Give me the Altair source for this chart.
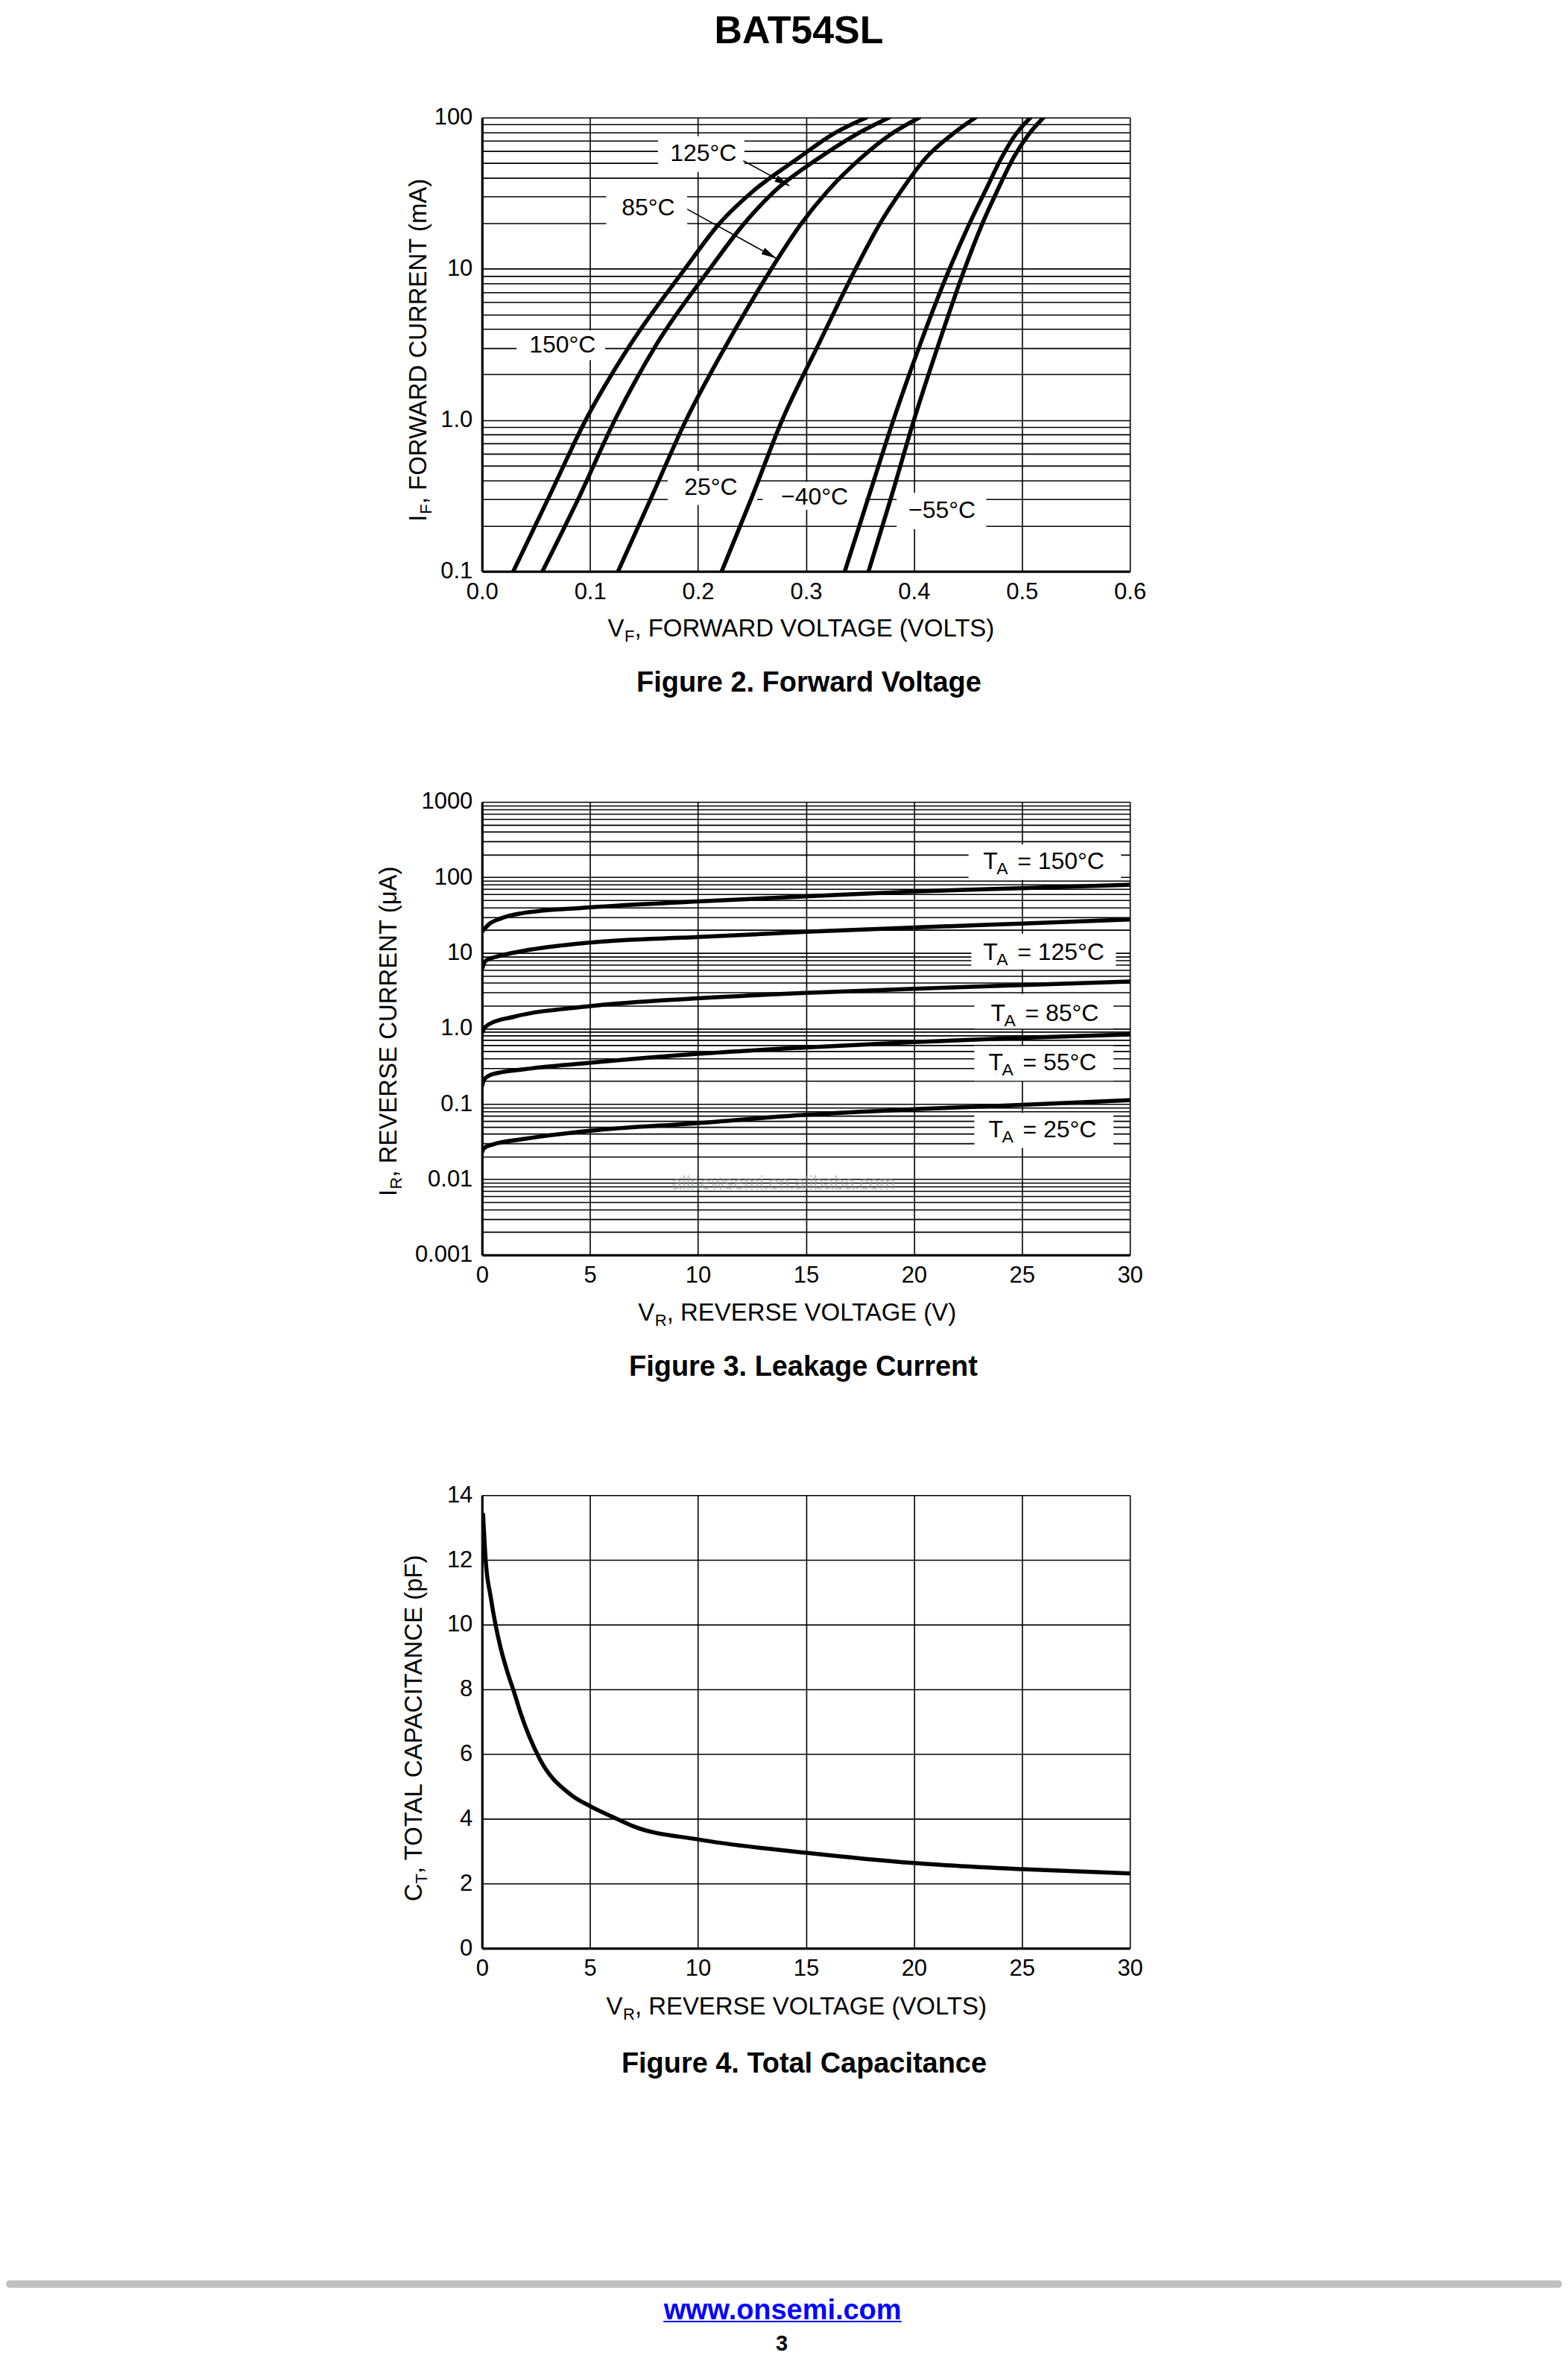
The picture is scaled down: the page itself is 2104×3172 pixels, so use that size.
import altair as alt
import pandas as pd

FONT = "Liberation Sans"
W = 871

# ---------------- Figure 2: forward voltage (V) vs forward current (mA) ----------------
fv_current_mA = [0.1, 0.31, 1.0, 3.2, 10, 19.6, 32.6, 54, 77, 100]
fv_150 = [0.029, 0.062, 0.096, 0.138, 0.188, 0.219, 0.251, 0.293, 0.324, 0.356]
fv_125 = [0.056, 0.090, 0.123, 0.162, 0.211, 0.242, 0.271, 0.312, 0.346, 0.377]
fv_85 = [0.126, 0.157, 0.189, 0.227, 0.268, 0.295, 0.320, 0.351, 0.378, 0.405]
fv_25 = [0.222, 0.250, 0.278, 0.312, 0.346, 0.368, 0.388, 0.411, 0.435, 0.457]
fv_m40 = [0.336, 0.358, 0.381, 0.406, 0.433, 0.451, 0.466, 0.481, 0.494, 0.508]
fv_m55 = [0.358, 0.379, 0.400, 0.423, 0.447, 0.463, 0.477, 0.492, 0.506, 0.520]
fv_names = ["150", "125", "85", "25", "-40", "-55"]

fv_xticks = [0.0, 0.1, 0.2, 0.3, 0.4, 0.5, 0.6]
fv_ylabels = {0.1: "0.1", 1: "1.0", 10: "10", 100: "100"}

fv_lbl_text = ["150°C", "125°C", "85°C", "25°C", "−40°C", "−55°C"]
fv_lbl_v = [0.0745, 0.205, 0.154, 0.212, 0.308, 0.426]
fv_lbl_i = [3.13, 58, 25.4, 0.36, 0.31, 0.253]
fv_box_v1 = [0.032, 0.163, 0.115, 0.172, 0.260, 0.384]
fv_box_v2 = [0.114, 0.243, 0.190, 0.255, 0.355, 0.467]
fv_box_i1 = [2.49, 43.7, 18.5, 0.275, 0.255, 0.19]
fv_box_i2 = [3.92, 75.3, 34.0, 0.46, 0.39, 0.33]

fv_arrow_v1 = [0.242, 0.190]
fv_arrow_i1 = [51.8, 24.8]
fv_arrow_v2 = [0.2846, 0.2724]
fv_arrow_i2 = [35.4, 11.75]

# ---------------- Figure 3: leakage current (uA) vs reverse voltage ----------------
lk_v_150 = [0, 0.3, 0.87, 1.8, 5, 10, 15, 20, 25, 30]
lk_i_150 = [19, 23.7, 28.6, 33.3, 40, 48, 56, 65, 72, 80]
lk_v_125 = [0, 0.18, 0.87, 1.8, 5, 10, 15, 20, 25, 30]
lk_i_125 = [6.1, 7.9, 9.2, 10.5, 13.7, 16.2, 19, 21.7, 24.5, 27.7]
lk_v_85 = [0, 0.1, 0.36, 1.45, 5, 10, 15, 20, 25, 30]
lk_i_85 = [0.87, 1.0, 1.15, 1.42, 1.97, 2.5, 2.95, 3.35, 3.75, 4.18]
lk_v_55 = [0, 0.1, 0.48, 1.94, 5, 10, 15, 20, 25, 30]
lk_i_55 = [0.173, 0.21, 0.247, 0.287, 0.35, 0.46, 0.56, 0.66, 0.75, 0.83]
lk_v_25 = [0, 0.1, 0.48, 1.94, 5, 10, 15, 20, 25, 30]
lk_i_25 = [0.023, 0.026, 0.0289, 0.0343, 0.044, 0.0557, 0.0718, 0.085, 0.097, 0.112]

lk_xticks = [0, 5, 10, 15, 20, 25, 30]
lk_ylabels = {0.001: "0.001", 0.01: "0.01", 0.1: "0.1", 1: "1.0", 10: "10", 100: "100", 1000: "1000"}

lk_lbl_temp = ["= 150°C", "= 125°C", "= 85°C", "= 55°C", "= 25°C"]
lk_lbl_v = [23.21, 23.21, 23.56, 23.46, 23.46]
lk_lbl_i = [163, 10.2, 1.56, 0.348, 0.0452]
lk_box_v1 = [22.53, 22.66, 22.8, 22.8, 22.8]
lk_box_v2 = [29.59, 29.35, 29.24, 29.24, 29.24]
lk_box_i1 = [92.5, 6.07, 0.99, 0.202, 0.0262]
lk_box_i2 = [274, 18.0, 2.87, 0.586, 0.0762]

# ---------------- Figure 4: total capacitance (pF) vs reverse voltage ----------------
cap_v = [0.05, 0.18, 0.39, 0.64, 0.87, 1.16, 1.5, 1.79, 2.68, 4.1, 5.0, 6.3, 7.0, 10, 15, 20, 25, 30]
cap_c = [13.4, 11.9, 10.9, 9.95, 9.26, 8.57, 7.88, 7.26, 5.84, 4.75, 4.39, 3.98, 3.77, 3.36, 2.95, 2.63, 2.44, 2.31]
cap_xticks = [0, 5, 10, 15, 20, 25, 30]
cap_yticks = [0, 2, 4, 6, 8, 10, 12, 14]

# ---------------- helpers ----------------
one = pd.DataFrame({"k": [0]})


def txt(text, x, y, size, bold=False, align="left", baseline="alphabetic", angle=0,
        color="black", opacity=1.0):
    kw = dict(text=text, font=FONT, fontSize=size, align=align, baseline=baseline, color=color)
    if bold:
        kw["fontWeight"] = "bold"
    if angle:
        kw["angle"] = angle
    if opacity != 1.0:
        kw["opacity"] = opacity
    return alt.Chart(one).mark_text(**kw).encode(x=alt.value(x), y=alt.value(y))


AX = dict(labelFont=FONT, labelFontSize=31, labelColor="black", labelPadding=13,
          grid=True, gridColor="black", gridWidth=1.6, gridOpacity=1,
          ticks=False, tickSize=0, domain=True, domainColor="black", domainWidth=3.2,
          labelFlush=False, labelOverlap=False)


def log_grid(lo_exp, hi_exp):
    vals = []
    for e in range(lo_exp, hi_exp):
        for m in range(1, 10):
            vals.append(round(m * 10 ** e, 8))
    vals.append(round(10 ** hi_exp, 8))
    return vals


def label_expr(mapping):
    parts = []
    for v, s in mapping.items():
        parts.append(f"abs(datum.value - {v}) < {v} * 1e-6 ? '{s}'")
    return " : ".join(parts) + " : ''"


LINE = dict(color="black", strokeWidth=5.5, interpolate="monotone", strokeCap="round", clip=True)

# ---------------- Figure 2 chart ----------------
rows = []
for name, vs in zip(fv_names, [fv_150, fv_125, fv_85, fv_25, fv_m40, fv_m55]):
    for k, (v, i) in enumerate(zip(vs, fv_current_mA)):
        rows.append({"s": name, "k": k, "v": v, "i": i})
fv_df = pd.DataFrame(rows)

x2s = alt.Scale(domain=[0, 0.6], nice=False, zero=False)
y2s = alt.Scale(type="log", domain=[0.1, 100], nice=False)
x2ax = alt.Axis(values=fv_xticks, format=".1f", **AX)
y2ax = alt.Axis(values=log_grid(-1, 2), labelExpr=label_expr(fv_ylabels), **AX)


def X2(f):
    return alt.X(f, type="quantitative", scale=x2s, axis=x2ax, title=None)


def Y2(f):
    return alt.Y(f, type="quantitative", scale=y2s, axis=y2ax, title=None)


fv_lbl = pd.DataFrame({"t": fv_lbl_text, "v": fv_lbl_v, "i": fv_lbl_i,
                       "v1": fv_box_v1, "v2": fv_box_v2, "i1": fv_box_i1, "i2": fv_box_i2})
fv_arr = pd.DataFrame({"v1": fv_arrow_v1, "i1": fv_arrow_i1, "v2": fv_arrow_v2, "i2": fv_arrow_i2})

f2_lines = alt.Chart(fv_df).mark_line(**LINE).encode(x=X2("v"), y=Y2("i"), detail="s:N", order="k:Q")
f2_boxes = alt.Chart(fv_lbl).mark_rect(color="white").encode(x=X2("v1"), x2="v2", y=Y2("i1"), y2="i2")
f2_text = alt.Chart(fv_lbl).mark_text(font=FONT, fontSize=32, align="center", baseline="middle",
                                      color="black").encode(x=X2("v"), y=Y2("i"), text="t:N")
f2_arrow = alt.Chart(fv_arr).mark_rule(color="black", strokeWidth=1.6).encode(
    x=X2("v1"), y=Y2("i1"), x2="v2", y2="i2")
f2_head = alt.Chart(fv_arr).mark_point(shape="M0,0L-1,-0.24L-1,0.24Z", filled=True, size=1600,
                                       color="black", opacity=1, angle=29).encode(
    x=X2("v2"), y=Y2("i2"))

fig2 = alt.layer(
    f2_boxes, f2_lines, f2_text, f2_arrow, f2_head,
    txt("V", 169, 697.7, 33), txt("F", 191.5, 704.7, 22), txt(", FORWARD VOLTAGE (VOLTS)", 205, 697.7, 33),
    txt("I", -75, 543, 33, angle=270), txt("F", -68, 533, 22, angle=270),
    txt(", FORWARD CURRENT (mA)", -75, 519.5, 33, angle=270),
).properties(width=W, height=610)

# ---------------- Figure 3 chart ----------------
rows = []
for name, vs, iis in [("150", lk_v_150, lk_i_150), ("125", lk_v_125, lk_i_125), ("85", lk_v_85, lk_i_85),
                      ("55", lk_v_55, lk_i_55), ("25", lk_v_25, lk_i_25)]:
    for k, (v, i) in enumerate(zip(vs, iis)):
        rows.append({"s": name, "k": k, "v": v, "i": i})
lk_df = pd.DataFrame(rows)

x3s = alt.Scale(domain=[0, 30], nice=False, zero=False)
y3s = alt.Scale(type="log", domain=[0.001, 1000], nice=False)
x3ax = alt.Axis(values=lk_xticks, format="d", **AX)
y3ax = alt.Axis(values=log_grid(-3, 3), labelExpr=label_expr(lk_ylabels), **AX)


def X3(f):
    return alt.X(f, type="quantitative", scale=x3s, axis=x3ax, title=None)


def Y3(f):
    return alt.Y(f, type="quantitative", scale=y3s, axis=y3ax, title=None)


lk_lbl = pd.DataFrame({"t": lk_lbl_temp, "v": lk_lbl_v, "i": lk_lbl_i,
                       "v1": lk_box_v1, "v2": lk_box_v2, "i1": lk_box_i1, "i2": lk_box_i2})

f3_lines = alt.Chart(lk_df).mark_line(**LINE).encode(x=X3("v"), y=Y3("i"), detail="s:N", order="k:Q")
f3_boxes = alt.Chart(lk_lbl).mark_rect(color="white").encode(x=X3("v1"), x2="v2", y=Y3("i1"), y2="i2")
f3_T = alt.Chart(lk_lbl).mark_text(text="T", font=FONT, fontSize=32, align="left", baseline="middle",
                                   color="black").encode(x=X3("v"), y=Y3("i"))
f3_A = alt.Chart(lk_lbl).mark_text(text="A", font=FONT, fontSize=23, align="left", baseline="middle",
                                   color="black", dx=18, dy=10).encode(x=X3("v"), y=Y3("i"))
f3_rest = alt.Chart(lk_lbl).mark_text(font=FONT, fontSize=32, align="left", baseline="middle",
                                      color="black", dx=46).encode(x=X3("v"), y=Y3("i"), text="t:N")

fig3 = alt.layer(
    f3_boxes, f3_lines, f3_T, f3_A, f3_rest,
    txt("allnewsemi.en.alibaba.com", 405, 513, 25, align="center", baseline="middle",
        color="#9a9a9a", opacity=0.55),
    txt("V", 210, 697, 33), txt("R", 232.5, 704, 22), txt(", REVERSE VOLTAGE (V)", 248.5, 697, 33),
    txt("I", -115, 530, 33, angle=270), txt("R", -108, 520.5, 22, angle=270),
    txt(", REVERSE CURRENT (μA)", -115, 504.6, 33, angle=270),
).properties(width=W, height=609)

# ---------------- Figure 4 chart ----------------
cap_df = pd.DataFrame({"v": cap_v, "c": cap_c, "k": list(range(len(cap_v)))})
x4s = alt.Scale(domain=[0, 30], nice=False, zero=False)
y4s = alt.Scale(domain=[0, 14], nice=False, zero=False)
f4_line = alt.Chart(cap_df).mark_line(**LINE).encode(
    x=alt.X("v:Q", scale=x4s, axis=alt.Axis(values=cap_xticks, format="d", **AX), title=None),
    y=alt.Y("c:Q", scale=y4s, axis=alt.Axis(values=cap_yticks, format="d", **AX), title=None),
    order="k:Q")

fig4 = alt.layer(
    f4_line,
    txt("V", 167, 698, 33), txt("R", 189.5, 705, 22), txt(", REVERSE VOLTAGE (VOLTS)", 205.5, 698, 33),
    txt("C", -81, 546, 33, angle=270), txt("T", -74, 522.2, 22, angle=270),
    txt(", TOTAL CAPACITANCE (pF)", -81, 508.8, 33, angle=270),
).properties(width=W, height=609)

# ---------------- header / captions / footer cells ----------------
header = txt("BAT54SL", 426, 31.5, 52, bold=True, align="center", baseline="middle").properties(
    width=W, height=147)
cap2 = txt("Figure 2. Forward Voltage", 439.5, 151, 38, bold=True, align="center",
           baseline="middle").properties(width=W, height=310)
cap3 = txt("Figure 3. Leakage Current", 432, 151, 38, bold=True, align="center",
           baseline="middle").properties(width=W, height=323)

gray_bar = alt.Chart(one).mark_rule(color="#c0c0c0", strokeWidth=10, strokeCap="round").encode(
    x=alt.value(-635), x2=alt.value(1447), y=alt.value(451.5))
underline = alt.Chart(one).mark_rule(color="#0000ff", strokeWidth=2).encode(
    x=alt.value(244), x2=alt.value(564), y=alt.value(502))
footer = alt.layer(
    txt("Figure 4. Total Capacitance", 433, 156, 38, bold=True, align="center", baseline="middle"),
    gray_bar,
    txt("www.onsemi.com", 404, 499, 38, bold=True, align="center", color="#0000ff"),
    underline,
    txt("3", 403, 541, 29, bold=True, align="center"),
).properties(width=W, height=548)

chart = alt.vconcat(header, fig2, cap2, fig3, cap3, fig4, footer, spacing=0, bounds="flush").properties(
    padding=0, background="white"
).configure_view(strokeWidth=0)

chart.save("out.html", embed_options={"renderer": "svg", "actions": False})
